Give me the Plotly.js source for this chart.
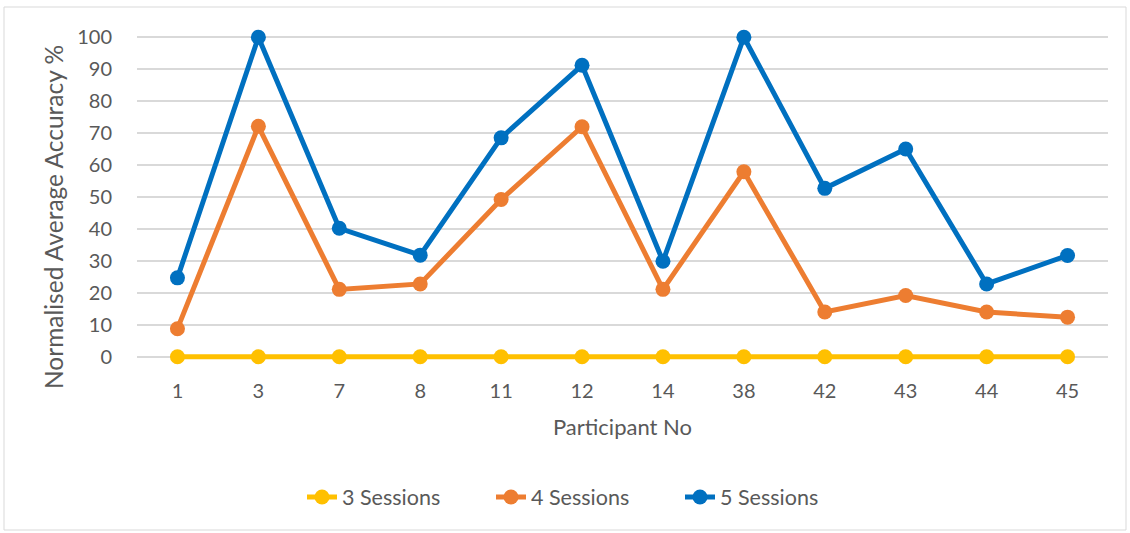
<!DOCTYPE html>
<html>
<head>
<meta charset="utf-8">
<script src="https://cdn.plot.ly/plotly-3.0.1.min.js"></script>
<style>html,body{margin:0;padding:0;background:#fff;}#chart{width:1130px;height:533px;}</style>
</head>
<body>
<div id="chart"></div>
<script>
const participants = ["1","3","7","8","11","12","14","38","42","43","44","45"];
const sessions3 = [0,0,0,0,0,0,0,0,0,0,0,0];
const sessions4 = [8.8,72.1,21.1,22.8,49.2,72.0,21.1,57.9,14.0,19.2,14.0,12.4];
const sessions5 = [24.7,100,40.2,31.8,68.5,91.2,29.9,100,52.7,65.0,22.8,31.7];
const seriesNames = ["3 Sessions","4 Sessions","5 Sessions"];
const colors = ["#FFC000","#ED7D31","#0070C0"];
const yTitle = "Normalised Average Accuracy %";
const xTitle = "Participant No";

const font = "Lato, 'Open Sans', sans-serif";
const mk = (y, i) => ({
  x: participants, y: y, name: seriesNames[i], type: "scatter", mode: "lines+markers",
  line: {color: colors[i], width: 5},
  marker: {color: colors[i], size: 15},
  cliponaxis: false
});

const data = [mk(sessions3,0), mk(sessions4,1), mk(sessions5,2)];

// plot area: top 34px, bottom 360px (value 0 at ~357, 100 at ~37)
const PT = 34, PB = 360, PH = PB - PT, PL = 137, PW = 971;
const py = px => (PB - px) / PH;
const pxx = px => (px - PL) / PW;

const layout = {
  width: 1130, height: 533,
  margin: {l: PL, r: 1130 - PL - PW, t: PT, b: 533 - PB},
  paper_bgcolor: "#fff", plot_bgcolor: "#fff",
  font: {family: font, color: "#595959", size: 20},
  showlegend: true,
  legend: {orientation: "h", x: pxx(302), xanchor: "left", y: py(497), yanchor: "middle",
           font: {size: 21.5, color: "#595959"}, entrywidth: 144, entrywidthmode: "pixels",
           tracegroupgap: 0},
  xaxis: {
    type: "category", range: [-0.5, 11.5], autorange: false,
    showgrid: false, zeroline: false, showline: false,
    ticks: "", ticklabelstandoff: 17,
    tickfont: {size: 20, color: "#595959"},
    title: {text: xTitle, font: {size: 22, color: "#595959"}, standoff: 18}
  },
  yaxis: {
    range: [-1, 101], autorange: false, tickvals: [0,10,20,30,40,50,60,70,80,90,100],
    showgrid: true, gridcolor: "#D9D9D9", gridwidth: 1.5,
    zeroline: false, showline: false, ticks: "", ticklabelstandoff: 24,
    tickfont: {size: 20, color: "#595959"}
  },
  annotations: [{
    text: yTitle, xref: "paper", yref: "paper",
    x: pxx(53), y: py(217), xanchor: "center", yanchor: "middle",
    textangle: -90, showarrow: false, font: {size: 24.5, color: "#595959"}
  }],
  shapes: [{
    type: "rect", xref: "paper", yref: "paper",
    x0: pxx(4), x1: pxx(1126), y0: py(530), y1: py(7),
    line: {color: "#D9D9D9", width: 1}, fillcolor: "rgba(0,0,0,0)", layer: "below"
  }]
};

Plotly.newPlot("chart", data, layout, {displayModeBar: false, staticPlot: true});
</script>
</body>
</html>
